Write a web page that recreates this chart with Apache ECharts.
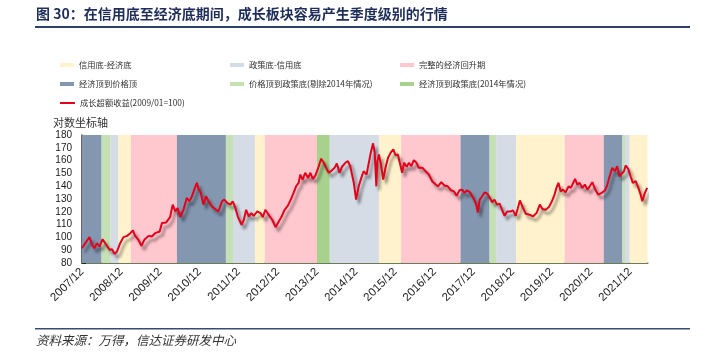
<!DOCTYPE html>
<html><head><meta charset="utf-8">
<script src="https://cdn.jsdelivr.net/npm/echarts@6/dist/echarts.min.js"></script>
<style>html,body{margin:0;padding:0;background:#fff;}#c{width:703px;height:359px;}</style>
</head><body><div id="c"></div>
<script>
const titleText = '图 30：在信用底至经济底期间，成长板块容易产生季度级别的行情';
const sourceText = '资料来源：万得，信达证券研发中心';
const yAxisName = '对数坐标轴';
const lineName = '成长超额收益(2009/01=100)';
const phaseNames = ['信用底-经济底', '政策底-信用底', '完整的经济回升期', '经济顶到价格顶', '价格顶到政策底(剔除2014年情况)', '经济顶到政策底(2014年情况)'];
const phaseColors = ['#FFF2CC', '#D6DCE5', '#FFC7CE', '#8497B0', '#C5E0B4', '#A9D18E'];
// band limits in months since 2007/12
const bandStart = [0, 6.0, 8.7, 11.1, 15.0, 29.1, 44.1, 46.3, 53.0, 56.0, 72.0, 75.9, 91.0, 97.8, 116.0, 124.9, 126.9, 133.0, 147.9, 159.9, 165.6, 166.4, 167.8];
const bandEnd = [6.0, 8.7, 11.1, 15.0, 29.1, 44.1, 46.3, 53.0, 56.0, 72.0, 75.9, 91.0, 97.8, 116.0, 124.9, 126.9, 133.0, 147.9, 159.9, 165.6, 166.4, 167.8, 173.3];
const bandPhase = [3, 4, 1, 0, 2, 3, 4, 1, 0, 2, 5, 1, 0, 2, 3, 4, 1, 0, 2, 3, 4, 1, 0];
const xTickMonths = [0, 12, 24, 36, 48, 60, 72, 84, 96, 108, 120, 132, 144, 156, 168];
const xTickLabels = ['2007/12', '2008/12', '2009/12', '2010/12', '2011/12', '2012/12', '2013/12', '2014/12', '2015/12', '2016/12', '2017/12', '2018/12', '2019/12', '2020/12', '2021/12'];
const xMaxMonth = 173.3;
const yTicks = [80, 90, 100, 110, 120, 130, 140, 150, 160, 170, 180];
// line: months since 2007/12 and value
const lineMonths = [0, 1.0, 2.3, 3.1, 3.8, 4.6, 5.4, 6.3, 7.1, 7.8, 8.5, 9.2, 10.0, 10.7, 11.7, 12.7, 13.8, 14.8, 15.6, 16.3, 17.3, 18.2, 19.1, 20.4, 21.4, 22.4, 23.8, 24.5, 25.8, 27.0, 27.8, 28.6, 29.3, 30.1, 31.1, 32.1, 32.9, 33.7, 34.4, 35.2, 35.7, 36.4, 37.2, 38.0, 38.8, 39.8, 40.8, 41.8, 42.9, 43.6, 44.5, 45.5, 46.2, 47.0, 47.8, 48.9, 49.6, 50.3, 51.1, 51.9, 52.6, 53.7, 54.7, 55.4, 56.2, 57.2, 58.3, 59.3, 60.3, 61.1, 62.1, 63.1, 64.2, 64.9, 65.6, 66.4, 66.9, 67.6, 68.4, 69.3, 70.0, 70.7, 71.5, 72.5, 73.3, 74.1, 74.8, 75.6, 76.6, 77.4, 78.1, 78.9, 79.7, 80.7, 81.5, 82.2, 83.3, 84.0, 84.8, 85.6, 86.3, 87.2, 87.9, 88.5, 89.2, 89.7, 90.2, 90.5, 91.0, 91.7, 92.3, 93.1, 93.8, 94.6, 95.4, 96.1, 96.8, 97.4, 98.1, 98.7, 99.5, 100.2, 100.9, 101.7, 102.5, 103.2, 104.3, 105.3, 106.3, 107.3, 108.4, 109.1, 110.1, 111.1, 112.1, 113.1, 114.0, 114.8, 115.7, 116.5, 117.2, 118.0, 118.9, 119.6, 120.3, 120.9, 121.3, 121.9, 122.6, 123.4, 124.2, 125.0, 125.7, 126.4, 127.2, 128.0, 128.7, 129.5, 130.3, 130.7, 131.4, 132.1, 132.9, 133.5, 134.2, 135.0, 136.0, 137.2, 138.2, 139.3, 140.3, 141.1, 142.1, 143.1, 144.0, 144.7, 145.4, 146.0, 146.7, 147.4, 148.2, 149.1, 149.8, 150.3, 151.1, 151.8, 152.5, 153.3, 154.1, 154.9, 155.6, 156.4, 157.2, 158.2, 159.3, 160.3, 161.0, 161.7, 162.5, 163.3, 164.0, 164.7, 165.3, 166.1, 166.6, 167.4, 168.1, 168.8, 169.7, 170.5, 171.2, 171.7, 172.5, 173.2];
const lineValues = [91.5, 95.5, 100.2, 94.1, 91.5, 95.5, 92.8, 98.6, 95.5, 92.8, 90.2, 90.8, 87.1, 88.9, 95.5, 100.2, 101.2, 103.3, 105.4, 101.2, 98.1, 93.4, 98.1, 101.2, 100.7, 103.3, 104.6, 111.2, 111.7, 115.9, 125.6, 120.3, 123.0, 115.9, 121.6, 130.8, 128.2, 132.1, 137.3, 142.6, 137.9, 134.8, 125.6, 132.1, 128.2, 124.2, 122.2, 120.3, 128.2, 129.5, 126.9, 125.6, 128.2, 123.0, 115.9, 109.9, 113.8, 121.6, 116.4, 119.0, 116.9, 120.3, 119.0, 115.9, 121.6, 117.7, 113.8, 108.0, 112.4, 115.9, 121.6, 124.8, 130.8, 135.2, 139.9, 142.6, 149.1, 145.2, 150.5, 146.5, 150.5, 145.7, 148.3, 155.2, 161.5, 158.3, 154.4, 150.5, 152.5, 154.4, 157.8, 150.5, 155.2, 158.3, 159.6, 155.6, 142.6, 129.5, 139.9, 146.5, 151.7, 149.1, 158.3, 166.2, 173.5, 166.2, 139.9, 159.6, 164.8, 155.6, 145.2, 155.6, 162.2, 166.2, 168.8, 164.1, 164.8, 158.3, 150.5, 158.3, 155.2, 158.3, 155.6, 160.4, 158.3, 154.4, 154.4, 151.7, 149.1, 143.9, 141.3, 139.9, 143.1, 140.5, 139.9, 136.8, 136.0, 132.6, 136.8, 137.3, 134.8, 136.8, 135.2, 132.1, 128.9, 124.8, 119.5, 129.5, 132.1, 135.2, 134.2, 130.8, 127.4, 129.5, 125.6, 126.4, 121.6, 116.9, 120.3, 121.6, 120.3, 121.1, 116.9, 122.2, 128.9, 123.8, 118.5, 117.7, 116.4, 119.0, 125.6, 122.2, 121.6, 123.8, 128.2, 132.6, 138.7, 142.6, 136.0, 137.3, 135.2, 139.9, 138.7, 141.3, 145.7, 141.3, 142.6, 138.7, 141.3, 137.3, 139.9, 143.1, 137.9, 133.4, 134.8, 136.8, 141.3, 147.8, 154.4, 151.7, 155.6, 147.8, 146.5, 151.7, 156.2, 153.6, 147.8, 142.6, 143.9, 138.7, 133.4, 128.2, 134.8, 138.7];

const chart = echarts.init(document.getElementById('c'), null, {renderer: 'canvas'});
const cjk = "'Noto Sans CJK SC', sans-serif";
const num = "'Liberation Sans Narrow', 'Liberation Sans', Arial, sans-serif";

const phaseSeries = phaseNames.map((name, p) => ({
  name: name, type: 'line', data: [], z: 1,
  itemStyle: {color: phaseColors[p]}, lineStyle: {color: phaseColors[p]},
  markArea: {
    silent: true,
    itemStyle: {color: phaseColors[p], opacity: 1},
    data: bandStart.map((s, i) => ({s, e: bandEnd[i], p: bandPhase[i]}))
      .filter(b => b.p === p).map(b => [{xAxis: b.s}, {xAxis: b.e}])
  }
}));

const legendCols = [60, 230, 400];
const legendRows = [65, 84, 103];
const legends = phaseNames.map((name, p) => ({
  data: [{name: name, icon: 'rect'}],
  left: legendCols[p % 3], top: legendRows[Math.floor(p / 3)] - 6,
  itemWidth: 14, itemHeight: 4, itemGap: 0, padding: 0,
  textStyle: {fontFamily: cjk, fontSize: 8.3, color: '#333', lineHeight: 12},
  selectedMode: false
}));
legends.push({
  data: [{name: lineName, icon: 'rect'}],
  left: legendCols[0], top: legendRows[2] - 6,
  itemWidth: 15, itemHeight: 2, itemGap: 0, padding: 0,
  textStyle: {fontFamily: cjk, fontSize: 8.3, color: '#333', lineHeight: 12},
  selectedMode: false
});

chart.setOption({
  animation: false,
  backgroundColor: '#fff',
  legend: legends,
  grid: {left: 82, right: 55.5, top: 135, bottom: 96, containLabel: false},
  xAxis: {
    type: 'value', min: 0, max: xMaxMonth, interval: 12,
    splitLine: {show: false},
    axisLine: {show: true, lineStyle: {color: '#6b7a58', width: 2}},
    axisTick: {show: true, inside: true, length: 4, lineStyle: {color: '#111'}, customValues: xTickMonths},
    axisLabel: {
      rotate: 45, margin: 7, fontFamily: num, fontSize: 11.5, color: '#1a1a1a',
      customValues: xTickMonths,
      formatter: v => { const i = xTickMonths.indexOf(Math.round(v)); return i >= 0 ? xTickLabels[i] : ''; }
    }
  },
  yAxis: {
    type: 'value', min: yTicks[0], max: yTicks[yTicks.length - 1], interval: 10,
    splitLine: {show: false},
    axisLine: {show: true, lineStyle: {color: '#333', width: 1.5}},
    axisTick: {show: true, inside: true, length: 4, lineStyle: {color: '#222'}},
    minorTick: {show: true, splitNumber: 5, length: 2.5, lineStyle: {color: '#222'}},
    axisLabel: {fontFamily: num, fontSize: 10, color: '#1a1a1a', margin: 10}
  },
  series: phaseSeries.concat([{
    name: lineName, type: 'line', z: 5,
    showSymbol: false, symbol: 'none',
    data: lineMonths.map((m, i) => [m, lineValues[i]]),
    itemStyle: {color: '#E3001B'},
    lineStyle: {color: '#E3001B', width: 2, shadowColor: 'rgba(0,0,0,0.45)', shadowBlur: 3, shadowOffsetX: 3, shadowOffsetY: 4}
  }]),
  graphic: [
    {type: 'text', left: 36, top: 7, style: {text: titleText, fontFamily: cjk, fontSize: 14, fontWeight: 'bold', fill: '#1F2D5A'}},
    {type: 'rect', shape: {x: 35, y: 26, width: 655, height: 2}, style: {fill: '#2E3F6C'}},
    {type: 'text', left: 53, top: 117, style: {text: yAxisName, fontFamily: cjk, fontSize: 11, fill: '#333'}},
    {type: 'rect', shape: {x: 35, y: 328, width: 655, height: 1.5}, style: {fill: '#3B4A70'}},
    {type: 'text', left: 36, top: 334, style: {text: sourceText, fontFamily: cjk, fontSize: 12.5, fontStyle: 'italic', fill: '#333'}}
  ]
});
</script></body></html>
